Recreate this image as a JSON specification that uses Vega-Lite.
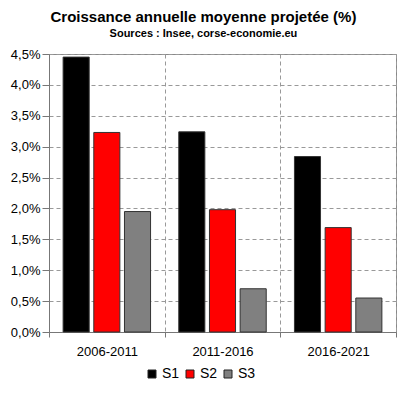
{
  "$schema": "https://vega.github.io/schema/vega-lite/v6.json",
  "width": 347,
  "height": 278,
  "padding": {"left": 10, "top": 10, "right": 5, "bottom": 5},
  "background": "white",
  "title": {
    "text": "Croissance annuelle moyenne projetée (%)",
    "subtitle": "Sources : Insee, corse-economie.eu",
    "anchor": "middle",
    "frame": "bounds",
    "font": "Liberation Sans",
    "fontSize": 15,
    "fontWeight": "bold",
    "color": "black",
    "subtitleFont": "Liberation Sans",
    "subtitleFontSize": 11,
    "subtitleFontWeight": "bold",
    "subtitleColor": "black",
    "subtitlePadding": 3,
    "offset": 9
  },
  "data": {
    "values": [
      {"period": "2006-2011", "series": "S1", "value": 4.45},
      {"period": "2006-2011", "series": "S2", "value": 3.23},
      {"period": "2006-2011", "series": "S3", "value": 1.95},
      {"period": "2011-2016", "series": "S1", "value": 3.24},
      {"period": "2011-2016", "series": "S2", "value": 1.98},
      {"period": "2011-2016", "series": "S3", "value": 0.70},
      {"period": "2016-2021", "series": "S1", "value": 2.84},
      {"period": "2016-2021", "series": "S2", "value": 1.69},
      {"period": "2016-2021", "series": "S3", "value": 0.55}
    ]
  },
  "mark": {"type": "bar", "stroke": "#333", "strokeWidth": 1},
  "encoding": {
    "x": {
      "field": "period",
      "type": "nominal",
      "scale": {"paddingInner": 0, "paddingOuter": 0},
      "axis": {
        "title": null,
        "labelAngle": 0,
        "tickBand": "extent",
        "grid": true,
        "gridDash": [4, 3],
        "gridColor": "#999",
        "domainColor": "#777",
        "tickColor": "#777",
        "tickSize": 5,
        "labelPadding": 8,
        "labelFont": "Liberation Sans",
        "labelFontSize": 13,
        "labelColor": "black"
      }
    },
    "xOffset": {
      "field": "series",
      "type": "nominal",
      "scale": {"paddingInner": 0.15, "paddingOuter": 0.46}
    },
    "y": {
      "field": "value",
      "type": "quantitative",
      "scale": {"domain": [0, 4.5], "nice": false},
      "axis": {
        "title": null,
        "values": [0, 0.5, 1, 1.5, 2, 2.5, 3, 3.5, 4, 4.5],
        "labelExpr": "replace(format(datum.value, '.1f'), '.', ',') + '%'",
        "grid": true,
        "gridDash": [4, 3],
        "gridColor": "#999",
        "domainColor": "#777",
        "tickColor": "#777",
        "tickSize": 7,
        "labelPadding": 2,
        "labelFont": "Liberation Sans",
        "labelFontSize": 13,
        "labelColor": "black"
      }
    },
    "fill": {
      "field": "series",
      "type": "nominal",
      "scale": {"domain": ["S1", "S2", "S3"], "range": ["#000000", "#ff0000", "#808080"]},
      "legend": {
        "title": null,
        "orient": "none",
        "legendX": 96,
        "legendY": 313,
        "direction": "horizontal",
        "symbolType": "square",
        "symbolSize": 64,
        "symbolStrokeColor": "#222",
        "symbolStrokeWidth": 1,
        "labelFont": "Liberation Sans",
        "labelFontSize": 14,
        "labelColor": "black",
        "labelOffset": 3,
        "columnPadding": 3
      }
    }
  },
  "config": {
    "view": {"stroke": "#888", "strokeWidth": 1}
  }
}
